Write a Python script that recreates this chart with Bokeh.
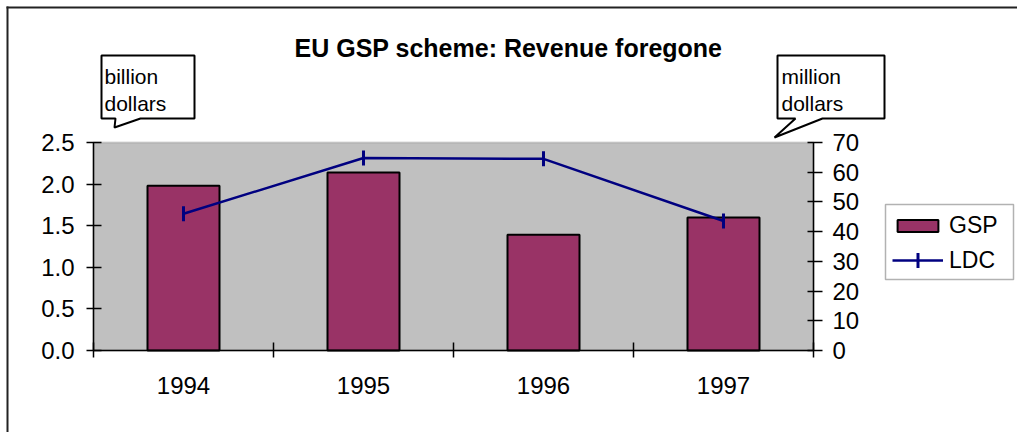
from bokeh.plotting import figure
from bokeh.models import (Range1d, LinearAxis, FixedTicker, Legend, LegendItem,
                          BoxAnnotation, ColumnDataSource, NumeralTickFormatter)
from bokeh.core.properties import value
from bokeh.embed import file_html
from bokeh.resources import INLINE
import math

# ---- data ----
years = ["1994", "1995", "1996", "1997"]
gsp_billion = [1.98, 2.14, 1.39, 1.60]
ldc_million = [46.0, 64.8, 64.5, 43.6]
left_ticks = [0.0, 0.5, 1.0, 1.5, 2.0, 2.5]
right_ticks = [0, 10, 20, 30, 40, 50, 60, 70]
left_max, right_max = 2.5, 70
title_text = "EU GSP scheme: Revenue foregone"
left_unit = ["billion", "dollars"]
right_unit = ["million", "dollars"]
series_names = ["GSP", "LDC"]

# ---- layout (pixels) ----
FONT = "Liberation Sans"
W, H = 1017, 432
PL, PR, PT, PB = 93, 813, 142, 350   # plot area edges
n = len(years)

xs_per_px = n / (PR - PL)
lys_per_px = left_max / (PB - PT)
rys_per_px = right_max / (PB - PT)

xpos = [i + 0.5 for i in range(n)]
src = ColumnDataSource(dict(x=xpos, gsp=gsp_billion, ldc=ldc_million, year=years))

p = figure(width=W, height=H, output_backend="svg", toolbar_location=None,
           x_axis_location=None, y_axis_location=None,
           x_range=Range1d(-PL * xs_per_px, n + (W - PR) * xs_per_px),
           y_range=Range1d(-(H - PB) * lys_per_px, left_max + PT * lys_per_px),
           min_border=0)
p.min_border_left = p.min_border_right = p.min_border_top = p.min_border_bottom = 0
p.background_fill_color = "white"
p.border_fill_color = "white"
p.outline_line_color = None
p.grid.visible = False
p.extra_y_ranges = {"ldc": Range1d(-(H - PB) * rys_per_px, right_max + PT * rys_per_px),
                    "py": Range1d(H, 0)}
p.extra_x_ranges = {"px": Range1d(0, W)}

# plot area background
p.add_layout(BoxAnnotation(left=0, right=n, bottom=0, top=left_max, level="underlay",
                           fill_color="#C0C0C0", fill_alpha=1,
                           line_color="#808080", line_width=2))

# bars
bars = p.vbar(x="x", top="gsp", width=0.4, source=src, fill_color="#993366",
              line_color="black", line_width=2)
# line
ln = p.line(x="x", y="ldc", source=src, y_range_name="ldc", line_color="#000080",
            line_width=2.5)
mk = p.scatter(x="x", y="ldc", source=src, y_range_name="ldc", marker="dash",
               angle=math.pi / 2, size=15, line_color="#000080", line_width=3)

# x axis
xa = LinearAxis(fixed_location=0, bounds=(0, n),
                ticker=FixedTicker(ticks=xpos, minor_ticks=list(range(n + 1))))
xa.major_label_overrides = {x: y for x, y in zip(xpos, years)}
xa.major_tick_line_color = None
xa.minor_tick_in = 8
xa.minor_tick_out = 7
xa.minor_tick_line_color = "black"
xa.minor_tick_line_width = 1.5
xa.axis_line_color = "black"
xa.axis_line_width = 1.5
xa.major_label_text_font = FONT
xa.major_label_text_font_size = "24px"
xa.major_label_text_color = "black"
xa.major_label_standoff = 19
p.add_layout(xa, "below")

# left axis
ya = LinearAxis(fixed_location=0, bounds=(0, left_max), ticker=FixedTicker(ticks=left_ticks))
ya.formatter = NumeralTickFormatter(format="0.0")
ya.minor_tick_line_color = None
ya.major_tick_in = 8
ya.major_tick_out = 7
ya.major_tick_line_width = 1.5
ya.axis_line_width = 1.5
ya.major_label_text_font = FONT
ya.major_label_text_font_size = "24px"
ya.major_label_text_color = "black"
ya.major_label_standoff = 12
p.add_layout(ya, "left")

# right axis
ra = LinearAxis(y_range_name="ldc", fixed_location=n, bounds=(0, right_max),
                ticker=FixedTicker(ticks=right_ticks))
ra.minor_tick_line_color = None
ra.major_tick_in = 6
ra.major_tick_out = 9
ra.major_tick_line_width = 1.5
ra.axis_line_width = 1.5
ra.major_label_text_font = FONT
ra.major_label_text_font_size = "24px"
ra.major_label_text_color = "black"
ra.major_label_standoff = 10
p.add_layout(ra, "right")

# legend: frame box + two rows
p.add_layout(BoxAnnotation(left=885, right=1013, top=204, bottom=279, x_range_name="px",
                           y_range_name="py", level="guide", fill_color="white",
                           fill_alpha=1, line_color="black", line_width=1.5))
common = dict(orientation="vertical", label_text_font=FONT, label_text_font_size="23px",
              label_text_color="black", glyph_width=51, label_width=59,
              label_standoff=6, padding=0, spacing=0, margin=0,
              border_line_color=None, background_fill_alpha=0)
leg_gsp = Legend(items=[LegendItem(label=series_names[0], renderers=[bars])],
                 location=(892, H - 239), glyph_height=15, label_height=28, **common)
leg_ldc = Legend(items=[LegendItem(label=series_names[1], renderers=[ln])],
                 location=(892, H - 279), glyph_height=38, label_height=38, **common)
p.add_layout(leg_gsp)
p.add_layout(leg_ldc)
# vertical tick of the LDC key symbol
p.segment(x0=[917.5], y0=[252.5], x1=[917.5], y1=[267.5], x_range_name="px",
          y_range_name="py", line_color="#000080", line_width=3, level="overlay")

# ---- decorations in pixel coordinates ----
# outer border (top and left)
p.segment(x0=[6, 7], y0=[7, 6], x1=[W, 7], y1=[7, H], x_range_name="px",
          y_range_name="py", line_color="#222222", line_width=2)

# callouts
p.patch(x=[101, 194, 194, 140, 114, 115, 101], y=[55, 55, 118, 118, 127, 118, 118],
        x_range_name="px", y_range_name="py", fill_color="white",
        line_color="black", line_width=2)
p.patch(x=[777, 884, 884, 822, 774, 795, 777], y=[55, 55, 118, 118, 137, 118, 118],
        x_range_name="px", y_range_name="py", fill_color="white",
        line_color="black", line_width=2)

p.text(x=[104, 104], y=[76, 103], text=left_unit, x_range_name="px", y_range_name="py",
       text_font=value(FONT), text_font_size="21px", text_baseline="alphabetic",
       text_color="black")
p.text(x=[781, 781], y=[76, 103], text=right_unit, x_range_name="px", y_range_name="py",
       text_font=value(FONT), text_font_size="21px", text_baseline="alphabetic",
       text_color="black")

p.text(x=[508], y=[47], text=[title_text], x_range_name="px", y_range_name="py",
       text_font=value(FONT), text_font_size="25px", text_font_style="bold",
       text_align="center", text_baseline="alphabetic", text_color="black")

open("out.html", "w").write(file_html(p, INLINE))
